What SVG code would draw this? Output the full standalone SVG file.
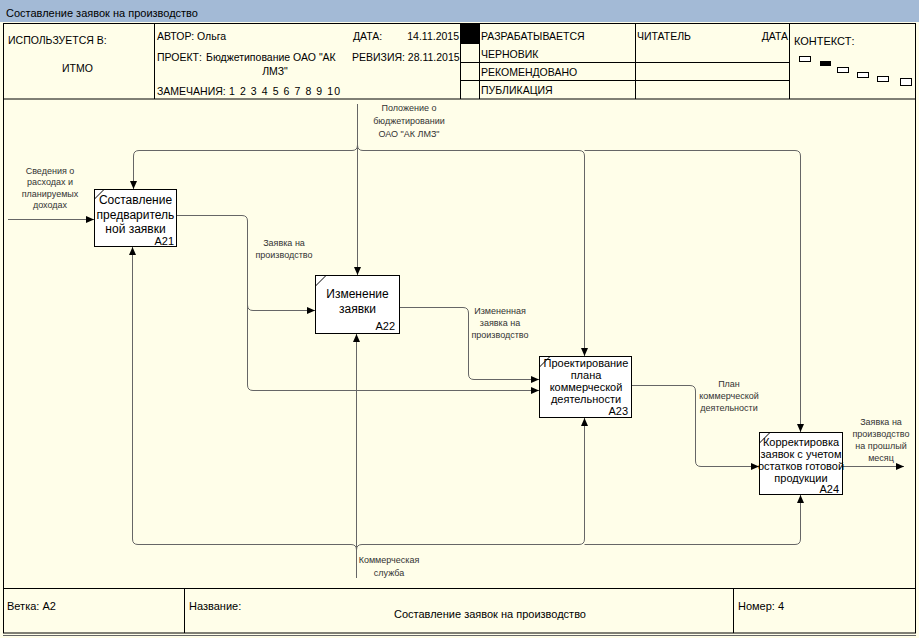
<svg xmlns="http://www.w3.org/2000/svg" width="919" height="638" viewBox="0 0 919 638">
<style>
.hdr{font-family:"Liberation Sans",Arial,sans-serif;font-size:10.5px;fill:#000}
.ttl{font-family:"Liberation Sans",Arial,sans-serif;font-size:11px;fill:#000}
.box{fill:#fff;stroke:#000;stroke-width:1}
.bt{font-family:"Liberation Sans",Arial,sans-serif;font-size:12px;fill:#000;text-anchor:middle}
.bt11{font-family:"Liberation Sans",Arial,sans-serif;font-size:11px;fill:#000;text-anchor:middle}
.num{font-family:"Liberation Sans",Arial,sans-serif;font-size:11px;fill:#000;text-anchor:end}
.lbl{font-family:"Liberation Sans",Arial,sans-serif;font-size:9px;fill:#333;text-anchor:middle}
.cn{fill:none;stroke:#666;stroke-width:1}
.fr{fill:none;stroke:#000;stroke-width:1}
</style>
<defs>
<marker id="ah" markerUnits="userSpaceOnUse" markerWidth="9" markerHeight="7" refX="8" refY="3.5" orient="auto">
<path d="M0,0 L8,3.5 L0,7 z" fill="#000"/>
</marker>
</defs>
<rect x="0" y="0" width="919" height="638" fill="#fffee9"/>
<rect x="0" y="0" width="919" height="22" fill="#a3bad6"/>
<text class="ttl" x="6" y="17">Составление заявок на производство</text>

<g id="header">
<rect class="fr" x="3.5" y="23.5" width="912" height="75.5"/>
<line class="fr" x1="154.5" y1="24" x2="154.5" y2="99"/>
<line class="fr" x1="460.5" y1="24" x2="460.5" y2="99"/>
<line class="fr" x1="479.5" y1="24" x2="479.5" y2="99"/>
<line class="fr" x1="635.5" y1="24" x2="635.5" y2="99"/>
<line class="fr" x1="789.5" y1="24" x2="789.5" y2="99"/>
<line class="fr" x1="460" y1="62.5" x2="790" y2="62.5"/>
<line class="fr" x1="460" y1="80.5" x2="790" y2="80.5"/>
<line class="fr" x1="460" y1="43.5" x2="480" y2="43.5"/>
<rect x="461" y="24" width="18" height="19" fill="#000"/>
<text class="hdr" x="8" y="44">ИСПОЛЬЗУЕТСЯ В:</text>
<text class="hdr" x="62" y="72">ИТМО</text>
<text class="hdr" x="157" y="40">АВТОР: Ольга</text>
<text class="hdr" x="353" y="40">ДАТА:</text>
<text class="hdr" x="459" y="40" text-anchor="end">14.11.2015</text>
<text class="hdr" x="157" y="61">ПРОЕКТ:</text>
<text class="hdr" x="206" y="61">Бюджетипование ОАО "АК</text>
<text class="hdr" x="275" y="75" text-anchor="middle">ЛМЗ"</text>
<text class="hdr" x="352" y="61">РЕВИЗИЯ: 28.11.2015</text>
<text class="hdr" x="157" y="95">ЗАМЕЧАНИЯ:</text>
<text class="hdr" x="229" y="95" textLength="111" lengthAdjust="spacing">1 2 3 4 5 6 7 8 9 10</text>
<text class="hdr" x="481" y="40">РАЗРАБАТЫВАЕТСЯ</text>
<text class="hdr" x="481" y="58">ЧЕРНОВИК</text>
<text class="hdr" x="481" y="76">РЕКОМЕНДОВАНО</text>
<text class="hdr" x="481" y="94">ПУБЛИКАЦИЯ</text>
<text class="hdr" x="637" y="40">ЧИТАТЕЛЬ</text>
<text class="hdr" x="788" y="40" text-anchor="end">ДАТА</text>
<text class="ttl" x="794" y="45">КОНТЕКСТ:</text>
<rect x="799.5" y="56.5" width="11" height="5" fill="#fff" stroke="#000"/>
<rect x="820" y="61" width="11" height="5" fill="#000"/>
<rect x="837.5" y="67.5" width="11" height="5" fill="#fff" stroke="#000"/>
<rect x="857.5" y="72.5" width="11" height="5" fill="#fff" stroke="#000"/>
<rect x="877.5" y="76.5" width="11" height="5" fill="#fff" stroke="#000"/>
<rect x="900.5" y="78.5" width="11" height="7" fill="#fff" stroke="#000"/>
</g>

<g id="frame">
<line class="fr" x1="3.5" y1="99" x2="3.5" y2="633"/>
<line class="fr" x1="915.5" y1="99" x2="915.5" y2="633"/>
</g>

<g id="footer">
<rect class="fr" x="3.5" y="588.5" width="912" height="44.5"/>
<line class="fr" x1="184.5" y1="588" x2="184.5" y2="633"/>
<line class="fr" x1="733.5" y1="588" x2="733.5" y2="633"/>
<line x1="3" y1="635.5" x2="916" y2="635.5" stroke="#666" stroke-width="1"/>
<text class="ttl" x="7" y="610">Ветка: A2</text>
<text class="ttl" x="189" y="610">Название:</text>
<text class="ttl" x="490" y="618" text-anchor="middle">Составление заявок на производство</text>
<text class="ttl" x="738" y="610">Номер: 4</text>
</g>

<g id="connectors">
<path class="cn" d="M357.5,104 V275" marker-end="url(#ah)"/>
<path class="cn" d="M357.5,145 Q357.5,150.5 352,150.5 H139 Q133.5,150.5 133.5,156 V189" marker-end="url(#ah)"/>
<path class="cn" d="M357.5,145 Q357.5,150.5 363,150.5 H579 Q584.5,150.5 584.5,156 V356" marker-end="url(#ah)"/>
<path class="cn" d="M584.5,150.5 H795 Q800.5,150.5 800.5,156 V432" marker-end="url(#ah)"/>
<path class="cn" d="M8,219.5 H94" marker-end="url(#ah)"/>
<path class="cn" d="M176,215.5 H242 Q247.5,215.5 247.5,221 V385 Q247.5,390.5 253,390.5 H539" marker-end="url(#ah)"/>
<path class="cn" d="M247.5,305 Q247.5,310.5 253,310.5 H315" marker-end="url(#ah)"/>
<path class="cn" d="M399,307.5 H463 Q468.5,307.5 468.5,313 V374 Q468.5,379.5 474,379.5 H539" marker-end="url(#ah)"/>
<path class="cn" d="M631,385.5 H690 Q695.5,385.5 695.5,391 V461 Q695.5,466.5 701,466.5 H759" marker-end="url(#ah)"/>
<path class="cn" d="M842,466.5 H904" marker-end="url(#ah)"/>
<path class="cn" d="M356.5,578 V334" marker-end="url(#ah)"/>
<path class="cn" d="M356.5,550 Q356.5,544.5 351,544.5 H138 Q132.5,544.5 132.5,539 V247" marker-end="url(#ah)"/>
<path class="cn" d="M356.5,550 Q356.5,544.5 362,544.5 H579 Q584.5,544.5 584.5,539 V418" marker-end="url(#ah)"/>
<path class="cn" d="M584.5,544.5 H795 Q800.5,544.5 800.5,539 V495" marker-end="url(#ah)"/>
</g>

<g id="labels">
<text class="lbl" x="50"><tspan x="50" y="174">Сведения о</tspan><tspan x="50" y="185">расходах и</tspan><tspan x="50" y="197">планируемых</tspan><tspan x="50" y="208">доходах</tspan></text>
<text class="lbl" x="409"><tspan x="409" y="111">Положение о</tspan><tspan x="409" y="124">бюджетировании</tspan><tspan x="409" y="137">ОАО "АК ЛМЗ"</tspan></text>
<text class="lbl" x="284"><tspan x="284" y="246">Заявка на</tspan><tspan x="284" y="258">производство</tspan></text>
<text class="lbl" x="500"><tspan x="500" y="314">Измененная</tspan><tspan x="500" y="326">заявка на</tspan><tspan x="500" y="338">производство</tspan></text>
<text class="lbl" x="729"><tspan x="729" y="387">План</tspan><tspan x="729" y="399">коммерческой</tspan><tspan x="729" y="411">деятельности</tspan></text>
<text class="lbl" x="881"><tspan x="881" y="425">Заявка на</tspan><tspan x="881" y="437">производство</tspan><tspan x="881" y="449">на прошлый</tspan><tspan x="881" y="461">месяц</tspan></text>
<text class="lbl" x="389"><tspan x="389" y="563">Коммерческая</tspan><tspan x="389" y="576">служба</tspan></text>
</g>

<g id="A21">
<rect class="box" x="94.5" y="189.5" width="82" height="57"/>
<line x1="94.5" y1="199" x2="104" y2="189.5" stroke="#000"/>
<text class="bt"><tspan x="135.5" y="204">Составление</tspan><tspan x="135.5" y="219">предваритель</tspan><tspan x="135.5" y="233">ной заявки</tspan></text>
<text class="num" x="174" y="245">A21</text>
</g>

<g id="A22">
<rect class="box" x="315.5" y="275.5" width="84" height="58"/>
<line x1="315.5" y1="286" x2="326" y2="275.5" stroke="#000"/>
<text class="bt"><tspan x="357.5" y="298">Изменение</tspan><tspan x="357.5" y="313">заявки</tspan></text>
<text class="num" x="395" y="330">A22</text>
</g>

<g id="A23">
<rect class="box" x="539.5" y="356.5" width="92" height="61"/>
<line x1="539.5" y1="367" x2="550" y2="356.5" stroke="#000"/>
<text class="bt11"><tspan x="586" y="367">Проектирование</tspan><tspan x="586" y="379">плана</tspan><tspan x="586" y="391">коммерческой</tspan><tspan x="586" y="403">деятельности</tspan></text>
<text class="num" x="628" y="415">A23</text>
</g>

<g id="A24">
<rect class="box" x="759.5" y="432.5" width="83" height="62"/>
<line x1="759.5" y1="443" x2="770" y2="432.5" stroke="#000"/>
<text class="bt11"><tspan x="801" y="446">Корректировка</tspan><tspan x="801" y="458">заявок с учетом</tspan><tspan x="801" y="470">остатков готовой</tspan><tspan x="801" y="482">продукции</tspan></text>
<text class="num" x="839" y="493">A24</text>
</g>
</svg>
